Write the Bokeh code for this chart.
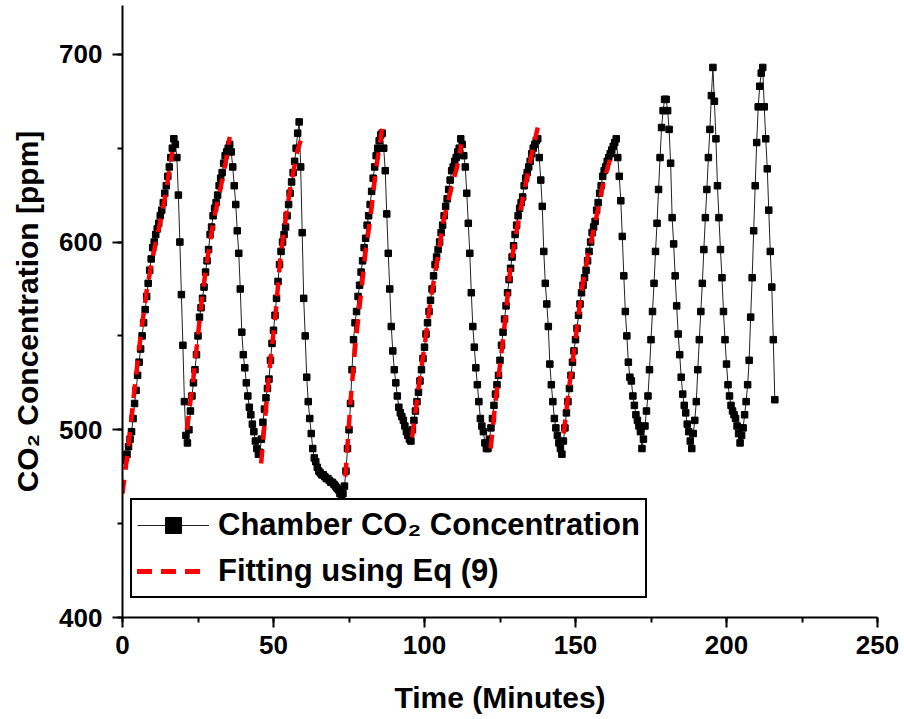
import numpy as np
from bokeh.plotting import figure
from bokeh.models import SingleIntervalTicker, Range1d
from bokeh.embed import file_html
from bokeh.resources import INLINE

# ---- Chamber CO2 concentration (ppm), sampled every 0.5 min, per cycle ----
STEP = 0.5
cycle_start = [0.0, 22.0, 45.5, 73.5, 96.0, 121.5, 146.0, 172.5, 189.0, 205.0]

c1 = [484, 484, 485, 487, 491, 495, 499, 506, 514, 521, 529, 536, 543, 550, 557,
      564, 571, 578, 585, 591, 597, 600, 604, 607, 610, 614, 617, 621, 626, 630,
      635, 640, 645, 650, 655, 652, 645, 625, 600, 572, 545, 515, 497, 493]
c2 = [500, 510, 518, 525, 532, 540, 550, 560, 565, 570, 576, 584, 590, 596, 604,
      608, 614, 618, 621, 625, 630, 634, 637, 642, 646, 648, 650, 652,
      648, 640, 630, 620, 606, 594, 575, 552, 540, 533, 525, 518, 512, 508, 503,
      499, 494, 490, 487]
c3 = [488, 495, 504, 511, 517, 522, 527, 537, 546, 553, 561, 570, 579, 588, 595,
      600, 604, 608, 614, 620, 626, 632, 637, 643, 650, 658, 664,
      640, 605, 570, 550, 528, 515, 506, 498, 490, 485, 483, 480, 478, 477, 476,
      476, 475, 474, 474, 473, 472, 472, 471, 470, 469, 468, 466, 465, 466]
c4 = [470, 478, 490, 500, 514, 532, 548, 557, 563, 571, 577, 584, 590, 597, 602,
      609, 614, 620, 627, 634, 640, 646, 650, 654, 657, 658,
      650, 638, 615, 594, 575, 555, 542, 532, 525, 518, 512, 509, 507, 505, 502,
      499, 497, 495, 494]
c5 = [500, 505, 510, 515, 520, 526, 532, 538, 544, 551, 557, 563, 569, 575, 582,
      588, 592, 596, 600, 605, 609, 614, 619, 623, 628, 633, 638, 640, 643, 645,
      648, 650, 655,
      652, 646, 640, 626, 610, 594, 573, 555, 544, 533, 524, 515, 506, 502, 499,
      493, 490, 490]
c6 = [495, 501, 506, 513, 519, 524, 529, 537, 545, 552, 559, 566, 573, 580, 586,
      592, 598, 604, 609, 614, 618, 621, 624, 630, 634, 637, 640, 643, 647, 650,
      652, 654, 655,
      645, 633, 619, 595, 578, 567, 555, 535, 524, 515, 506, 501, 497, 493, 490, 487]
c7 = [494, 501, 509, 515, 522, 529, 536, 542, 548, 554, 561, 567, 573, 577, 581,
      585, 590, 595, 600, 605, 608, 611, 617, 621, 626, 630, 635, 638, 640, 643,
      645, 647, 649, 651, 653, 655,
      645, 635, 622, 603, 582, 563, 550, 536, 528, 526, 518, 513, 508, 505, 502,
      499, 490]
c8 = [495, 502, 510, 518, 532, 548, 563, 578, 595, 610, 628, 645, 661, 670, 676, 676,
      670, 660, 642, 613, 599, 582, 566, 551, 540, 528, 519, 513, 509, 503, 499,
      494, 490]
c9 = [498, 505, 515, 532, 548, 563, 578, 596, 613, 628, 645, 660, 678, 693,
      675, 655, 630, 613, 596, 581, 563, 548, 535, 524, 518, 513, 510, 508, 506,
      502, 498, 493]
c10 = [497, 501, 508, 515, 524, 537, 560, 581, 606, 630, 653, 672, 683, 690, 693,
       672, 655, 639, 617, 595, 576, 548, 516]
cycles = [c1, c2, c3, c4, c5, c6, c7, c8, c9, c10]

time_min = []
co2_ppm = []
for t0, vals in zip(cycle_start, cycles):
    for i, v in enumerate(vals):
        time_min.append(t0 + STEP * i)
        co2_ppm.append(v)

# ---- Fitting curves (Eq 9), read along each red dashed segment ----
fit_t = [
    [0, 2, 4, 6, 8, 10, 12, 14, 16.5],
    [21.3, 23.5, 26.3, 28, 30.2, 32.5, 34.1, 35.5],
    [45.9, 47.4, 49, 50.7, 52.3, 54, 55.6, 57.8, 59],
    [73.8, 75.5, 77.2, 78.8, 80.5, 82.1, 83.8, 86],
    [95.9, 98.1, 100.3, 102, 104.2, 106.4, 109.2, 110.8, 112.2],
    [121.9, 123.5, 125.2, 126.8, 128.5, 130.7, 132.9, 135.1, 137.5],
    [146.1, 148, 150, 152, 154, 156.5, 159, 162.1],
]
fit_ppm = [
    [466, 492, 522, 550, 574, 592, 607, 623, 648],
    [500, 528, 570, 590, 612, 629, 642, 656],
    [482, 510, 537, 562, 592, 612, 629, 648, 654],
    [475, 515, 547, 570, 595, 613, 637, 661],
    [496, 523, 548, 569, 590, 612, 631, 640, 652],
    [490, 515, 537, 560, 587, 608, 626, 644, 661],
    [498, 524, 548, 574, 592, 610, 630, 648],
]

x_ticks_interval = 50
y_ticks_interval = 100

FONT = "Liberation Sans"

p = figure(width=904, height=719, output_backend="svg", toolbar_location=None,
           x_range=Range1d(0, 250), y_range=Range1d(400, 726))
p.min_border_left = 122
p.min_border_right = 27
p.min_border_top = 5
p.min_border_bottom = 102
p.outline_line_color = None
p.xgrid.visible = False
p.ygrid.visible = False
p.background_fill_color = "white"
p.border_fill_color = "white"

p.line(time_min, co2_ppm, line_color="#222222", line_width=1,
       legend_label="Chamber CO\u2082 Concentration")
p.scatter(time_min, co2_ppm, marker="square", size=6.5, fill_color="black",
          line_color="black", legend_label="Chamber CO\u2082 Concentration")

for ft, fv in zip(fit_t, fit_ppm):
    p.line(ft, fv, line_color="#FF0000", line_width=4.5, line_dash="14 10",
           legend_label="Fitting using Eq (9)")

p.xaxis.ticker = SingleIntervalTicker(interval=x_ticks_interval, num_minor_ticks=2)
p.yaxis.ticker = SingleIntervalTicker(interval=y_ticks_interval, num_minor_ticks=2)

for ax in (p.xaxis[0], p.yaxis[0]):
    ax.axis_line_width = 2
    ax.axis_line_color = "black"
    ax.major_tick_line_width = 2
    ax.minor_tick_line_width = 2
    ax.major_tick_line_color = "black"
    ax.minor_tick_line_color = "black"
    ax.major_tick_in = 0
    ax.major_tick_out = 10
    ax.minor_tick_in = 0
    ax.minor_tick_out = 5
    ax.major_label_text_font = FONT
    ax.major_label_text_font_style = "bold"
    ax.major_label_text_font_size = "26px"
    ax.major_label_text_color = "black"
    ax.axis_label_text_font = FONT
    ax.axis_label_text_font_style = "bold"
    ax.axis_label_text_font_size = "30px"
    ax.axis_label_text_color = "black"

p.xaxis.axis_label = "Time (Minutes)"
p.yaxis.axis_label = "CO\u2082 Concentration [ppm]"
p.xaxis.major_label_standoff = 8
p.yaxis.major_label_standoff = 10
p.xaxis.axis_label_standoff = 24
p.yaxis.axis_label_standoff = 12

lg = p.legend[0]
lg.location = (8, 19)
lg.border_line_color = "black"
lg.border_line_alpha = 1
lg.border_line_width = 2
lg.background_fill_color = "white"
lg.background_fill_alpha = 1
lg.label_text_font = FONT
lg.label_text_font_style = "bold"
lg.label_text_font_size = "31px"
lg.label_text_color = "black"
lg.glyph_width = 72
lg.glyph_height = 40
lg.label_height = 40
lg.label_standoff = 9
lg.padding = 5
lg.spacing = 6
lg.margin = 0

open("out.html", "w").write(file_html(p, INLINE))
